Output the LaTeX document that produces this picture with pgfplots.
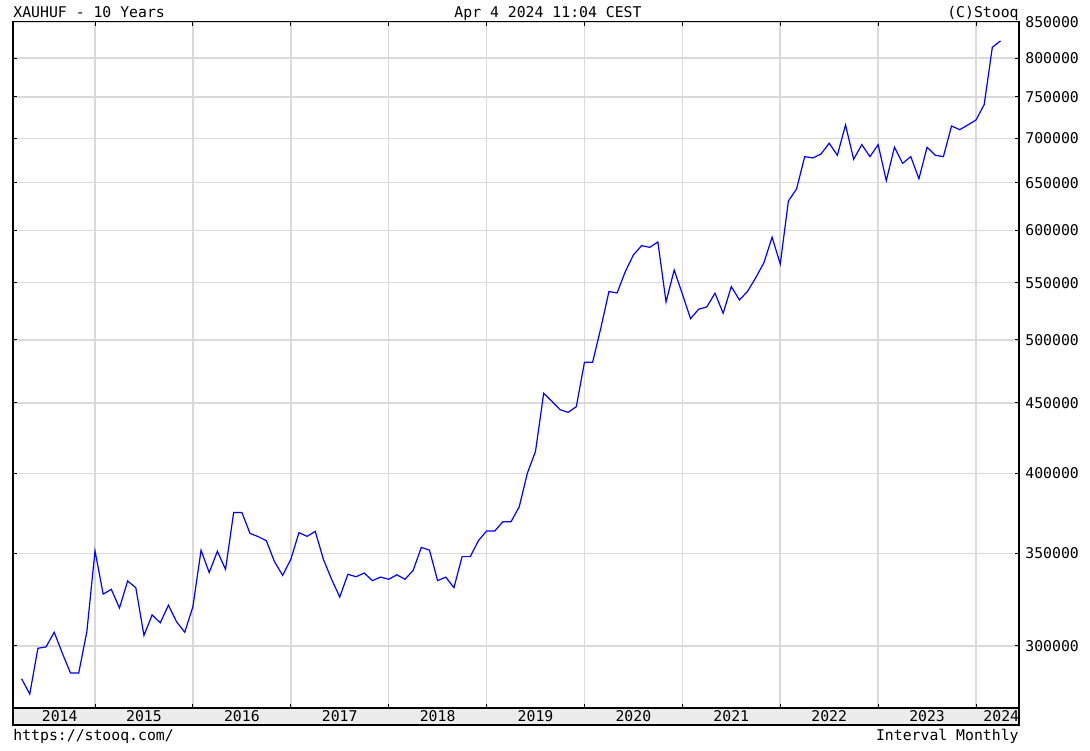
\documentclass[border=0pt]{standalone}
\usepackage{pgfplots}
\pgfplotsset{compat=1.18}
\usepackage{fontspec}
\setmainfont{DejaVu Sans Mono}
\setmonofont{DejaVu Sans Mono}
\definecolor{gridgray}{RGB}{218,218,218}
\definecolor{stripgray}{RGB}{236,236,236}
\newcommand{\chfont}{\fontsize{7.4}{8.5}\selectfont}

\pgfplotstableread{
m v
3 284000
4 276800
5 298800
6 299500
7 306900
8 296300
9 286700
10 286700
11 307200
12 351600
13 327100
14 329700
15 319600
16 334300
17 330600
18 305300
19 315900
20 311800
21 321100
22 312300
23 306900
24 320300
25 351900
26 339100
27 351300
28 340900
29 374900
30 374900
31 362000
32 360000
33 357600
34 345300
35 337500
36 346600
37 362400
38 360200
39 363200
40 346600
41 335300
42 325500
43 338100
44 336700
45 338800
46 334500
47 336500
48 335300
49 337800
50 335300
51 340300
52 353600
53 352000
54 334500
55 336500
56 330600
57 348200
58 348200
59 357600
60 363400
61 363400
62 369100
63 369100
64 378400
65 400200
66 415100
67 457300
68 451300
69 445000
70 443000
71 447200
72 481600
73 481600
74 509800
75 541900
76 540700
77 560200
78 576100
79 585100
80 583500
81 588700
82 532600
83 561800
84 539700
85 518000
86 526200
87 528200
88 540400
89 522700
90 546400
91 534400
92 542200
93 554700
94 568700
95 593400
96 567500
97 630400
98 643200
99 678800
100 677400
101 681900
102 694200
103 680400
104 715700
105 675900
106 692600
107 678800
108 692600
109 652200
110 689600
111 671300
112 678800
113 654300
114 689600
115 680400
116 678800
117 714500
118 710100
119 715700
120 721700
121 740400
122 814800
123 823500
}\gold

\begin{document}
\begin{tikzpicture}
\path[use as bounding box] (0,0) rectangle (545pt,375pt);

\begin{axis}[
  at={(6.5pt,21pt)}, anchor=south west,
  scale only axis, width=503pt, height=343pt,
  ymode=log,
  xmin=1.947, xmax=125.27,
  ymin=270500, ymax=850000,
  xtick={12,24,36,48,60,72,84,96,108,120},
  xticklabels={},
  ytick={300000,350000,400000,450000,500000,550000,600000,650000,700000,750000,800000,850000},
  yticklabels={300000,350000,400000,450000,500000,550000,600000,650000,700000,750000,800000,850000},
  yminorticks=false, xminorticks=false,
  yticklabel pos=right,
  yticklabel style={anchor=west, inner sep=0pt, xshift=3pt, font=\chfont},
  grid=major,
  major grid style={draw=gridgray, line width=0.75pt},
  tick align=inside,
  major tick length=2.2pt,
  tick style={black, line width=0.5pt},
  axis line style={black, line width=0.6pt},
]
\addplot[color={rgb,255:red,0;green,0;blue,255}, line width=0.6pt, mark=none] table[x=m, y=v] {\gold};
\end{axis}

\begin{axis}[
  at={(6.5pt,12.5pt)}, anchor=south west,
  scale only axis, width=503pt, height=8.5pt,
  xmin=1.947, xmax=125.27, ymin=0, ymax=1,
  ytick=\empty,
  xtick={7.67,18,30,42,54,66,78,90,102,114,123.1},
  xticklabels={2014,2015,2016,2017,2018,2019,2020,2021,2022,2023,2024},
  major tick length=0pt,
  axis background/.style={fill=stripgray},
  axis line style={black, line width=0.6pt},
  xticklabel style={anchor=center, inner sep=0pt, yshift=4.25pt, font=\chfont},
]
\end{axis}

\node[anchor=base west, inner sep=0pt, font=\chfont] at (6.5pt,366.4pt) {XAUHUF - 10 Years};
\node[anchor=base, inner sep=0pt, font=\chfont] at (274pt,366.4pt) {Apr 4 2024 11:04 CEST};
\node[anchor=base east, inner sep=0pt, font=\chfont] at (509.5pt,366.4pt) {(C)Stooq};
\node[anchor=base west, inner sep=0pt, font=\chfont] at (6.5pt,5pt) {https://stooq.com/};
\node[anchor=base east, inner sep=0pt, font=\chfont] at (509.5pt,5pt) {Interval Monthly};
\end{tikzpicture}
\end{document}
